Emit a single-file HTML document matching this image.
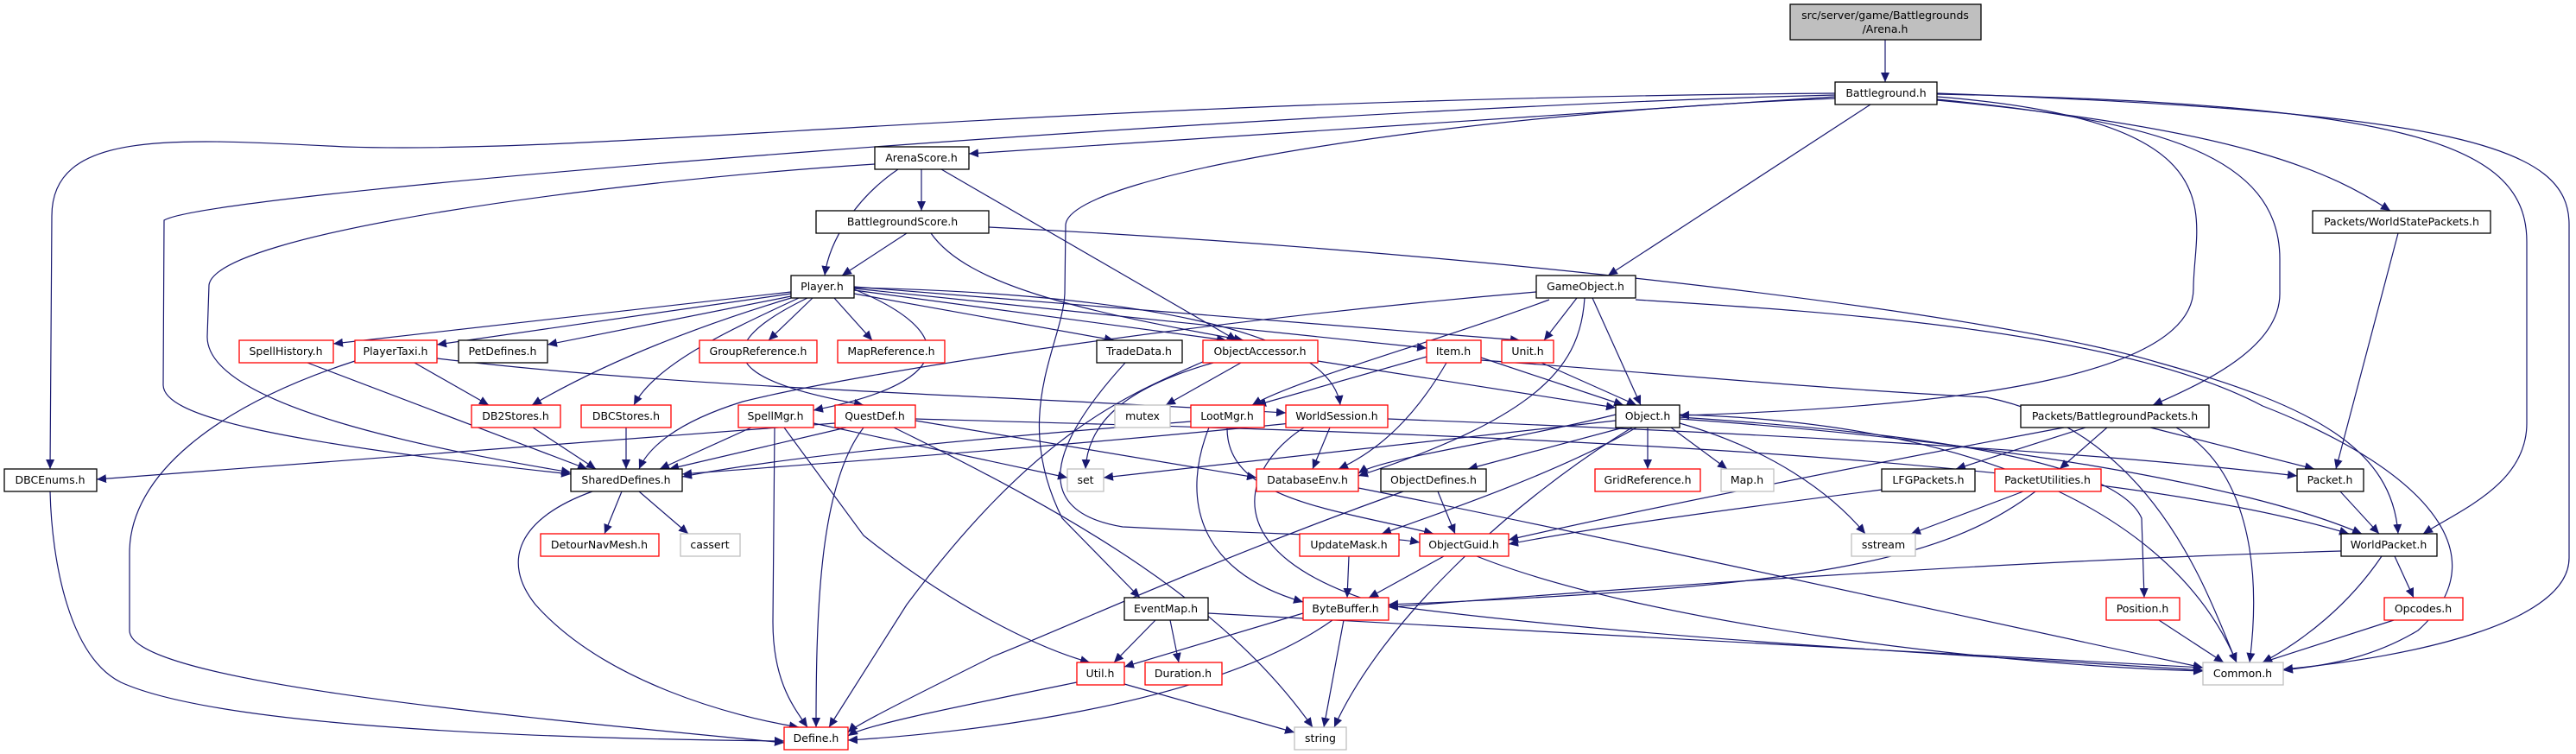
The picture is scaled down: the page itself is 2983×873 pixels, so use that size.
<!DOCTYPE html>
<html><head><meta charset="utf-8"><style>
body{margin:0;background:#fff;width:2983px;height:873px;overflow:hidden}
svg{position:absolute;left:0;top:0}
text{font-family:"DejaVu Sans","Liberation Sans",sans-serif;font-size:12.5px;fill:#000}
.n{fill:#fff;stroke:#000;stroke-width:1.3}
.r{fill:#fff;stroke:#ff0000;stroke-width:1.3}
.g{fill:#fff;stroke:#bfbfbf;stroke-width:1.3}
path.e{fill:none;stroke:#191970;stroke-width:1.2}
</style></head><body>
<svg width="2983" height="873" viewBox="0 0 2983 873" xmlns="http://www.w3.org/2000/svg">
<defs><marker id="a" markerUnits="userSpaceOnUse" markerWidth="12" markerHeight="10" refX="11" refY="5" orient="auto"><path d="M0,0 L11,5 L0,10 z" fill="#191970"/></marker></defs>
<g marker-end="url(#a)">
<path class="e" d="M2183,46 L2183,95"/>
<path class="e" d="M2125,108 C1200,115 700,180 400,170 C200,160 60,150 60,250 L58,543"/>
<path class="e" d="M2125,110 C1500,125 250,220 190,255 L189,446 C190,480 300,510 661,549"/>
<path class="e" d="M1013,190 C700,210 250,270 242,330 L240,390 C240,470 500,520 661,547"/>
<path class="e" d="M2125,112 L1122,178"/>
<path class="e" d="M2125,114 C1700,130 1240,200 1234,260 L1233,340 C1230,400 1170,480 1230,600 L1320,692"/>
<path class="e" d="M2166,121 L1862,319"/>
<path class="e" d="M2243,112 C2600,140 2540,250 2540,334 C2540,430 2300,470 1945,481"/>
<path class="e" d="M2243,115 C2500,140 2640,180 2640,300 L2640,340 C2640,400 2560,440 2493,469"/>
<path class="e" d="M2243,116 C2600,150 2700,200 2768,244"/>
<path class="e" d="M2243,109 C2800,120 2926,170 2926,280 L2926,490 C2926,560 2850,590 2806,618"/>
<path class="e" d="M2243,108 C2850,130 2975,170 2975,260 L2975,646 C2975,720 2800,760 2644,775"/>
<path class="e" d="M1067,196 L1067,244"/>
<path class="e" d="M1040,196 C990,230 960,280 955,319"/>
<path class="e" d="M1090,196 L1432,394"/>
<path class="e" d="M1050,270 L975,319"/>
<path class="e" d="M1078,270 C1120,330 1250,360 1440,394"/>
<path class="e" d="M1145,263 C1700,290 2300,360 2500,420 C2680,470 2770,520 2777,618"/>
<path class="e" d="M1894,347 C2100,360 2450,380 2620,470 C2800,540 2900,640 2800,730 C2750,760 2700,770 2644,776"/>
<path class="e" d="M1779,338 C1400,370 1000,430 860,465 C780,490 750,520 740,543"/>
<path class="e" d="M1794,347 C1650,400 1500,440 1450,469"/>
<path class="e" d="M1826,345 L1788,394"/>
<path class="e" d="M1844,345 L1900,469"/>
<path class="e" d="M1835,345 C1830,420 1790,480 1573,551"/>
<path class="e" d="M916,338 L386,398"/>
<path class="e" d="M916,340 L506,399"/>
<path class="e" d="M916,343 L634,399"/>
<path class="e" d="M941,345 L890,394"/>
<path class="e" d="M966,345 L1010,394"/>
<path class="e" d="M916,345 C800,380 700,420 616,469"/>
<path class="e" d="M925,345 C850,380 760,420 734,469"/>
<path class="e" d="M935,345 C780,420 900,450 1000,469"/>
<path class="e" d="M989,335 C1100,380 1120,440 942,475"/>
<path class="e" d="M989,340 L1290,394"/>
<path class="e" d="M989,336 L1420,394"/>
<path class="e" d="M989,334 L1652,403"/>
<path class="e" d="M989,332 L1760,394"/>
<path class="e" d="M989,333 C1300,340 1540,380 1552,469"/>
<path class="e" d="M480,420 L566,469"/>
<path class="e" d="M411,418 C250,470 150,550 150,640 L150,730 C150,790 600,830 908,860"/>
<path class="e" d="M506,415 C800,450 1100,455 1489,478"/>
<path class="e" d="M356,420 L680,543"/>
<path class="e" d="M617,495 L690,543"/>
<path class="e" d="M725,495 L725,543"/>
<path class="e" d="M870,495 L764,543"/>
<path class="e" d="M897,495 L895,720 C895,790 920,820 935,842"/>
<path class="e" d="M908,495 L1000,620 C1100,700 1200,750 1262,767"/>
<path class="e" d="M942,490 L1236,553"/>
<path class="e" d="M980,495 L775,543"/>
<path class="e" d="M1000,495 C950,560 945,700 945,842"/>
<path class="e" d="M967,490 L112,555"/>
<path class="e" d="M1060,487 L1455,553"/>
<path class="e" d="M1035,495 C1250,600 1420,700 1520,842"/>
<path class="e" d="M1060,485 C1600,500 2400,520 2720,618"/>
<path class="e" d="M1303,420 C1230,500 1180,590 1300,610 C1500,620 1600,620 1644,628"/>
<path class="e" d="M1437,420 L1350,469"/>
<path class="e" d="M1405,420 C1300,450 1260,490 1257,543"/>
<path class="e" d="M1395,418 C1300,460 1200,500 1050,700 L960,842"/>
<path class="e" d="M1526,418 L1871,472"/>
<path class="e" d="M1652,413 L1455,469"/>
<path class="e" d="M1715,414 L1880,469"/>
<path class="e" d="M1675,420 C1640,480 1600,520 1550,543"/>
<path class="e" d="M1715,417 C1900,430 2100,450 2300,460 C2500,500 2560,700 2590,767"/>
<path class="e" d="M1785,420 L1895,469"/>
<path class="e" d="M1379,488 C1100,510 900,530 790,552"/>
<path class="e" d="M1400,495 C1370,570 1380,660 1509,697"/>
<path class="e" d="M1421,495 C1420,580 1550,590 1660,618"/>
<path class="e" d="M1540,495 L1520,543"/>
<path class="e" d="M1495,490 C1200,520 900,540 790,549"/>
<path class="e" d="M1510,495 C1440,540 1400,640 1600,700 C1900,740 2300,760 2551,776"/>
<path class="e" d="M1607,485 C2000,500 2400,520 2660,551"/>
<path class="e" d="M1871,487 L1278,553"/>
<path class="e" d="M1890,495 C1750,580 1600,720 1545,842"/>
<path class="e" d="M1880,495 L1700,543"/>
<path class="e" d="M1908,495 L1908,543"/>
<path class="e" d="M1935,495 L2000,543"/>
<path class="e" d="M1945,490 C2050,520 2120,570 2160,618"/>
<path class="e" d="M1895,495 C1800,550 1650,600 1600,618"/>
<path class="e" d="M1945,483 C2200,500 2450,530 2480,600 L2483,692"/>
<path class="e" d="M1945,480 C2300,490 2520,600 2590,767"/>
<path class="e" d="M1871,480 C1750,510 1600,530 1573,548"/>
<path class="e" d="M1945,485 C2300,510 2600,560 2735,618"/>
<path class="e" d="M1573,565 C1900,630 2300,720 2551,773"/>
<path class="e" d="M1665,569 L1685,618"/>
<path class="e" d="M1625,569 C1400,650 1250,720 1150,760 C1050,810 990,840 982,848"/>
<path class="e" d="M1562,644 L1560,692"/>
<path class="e" d="M1672,644 L1585,692"/>
<path class="e" d="M1710,644 C1900,720 2300,770 2551,777"/>
<path class="e" d="M1338,718 L1290,767"/>
<path class="e" d="M1355,718 L1365,767"/>
<path class="e" d="M1399,710 L2551,773"/>
<path class="e" d="M1509,710 L1302,772"/>
<path class="e" d="M1556,718 L1533,842"/>
<path class="e" d="M1543,718 C1400,820 1100,850 982,857"/>
<path class="e" d="M1247,790 C1100,820 1000,840 982,852"/>
<path class="e" d="M1302,792 L1499,848"/>
<path class="e" d="M720,569 L700,618"/>
<path class="e" d="M740,569 L797,618"/>
<path class="e" d="M686,569 C600,600 580,650 620,700 C700,790 850,830 925,842"/>
<path class="e" d="M58,569 C60,650 80,760 140,790 C250,840 600,855 908,858"/>
<path class="e" d="M2415,495 L2265,543"/>
<path class="e" d="M2440,495 L2385,543"/>
<path class="e" d="M2490,495 L2680,543"/>
<path class="e" d="M2520,495 C2600,540 2620,650 2605,767"/>
<path class="e" d="M2390,495 C2150,540 1900,590 1747,625"/>
<path class="e" d="M2179,567 C2000,590 1850,610 1747,630"/>
<path class="e" d="M2343,569 L2213,618"/>
<path class="e" d="M2357,569 C2250,650 2100,680 1608,700"/>
<path class="e" d="M2710,569 L2755,618"/>
<path class="e" d="M2777,270 L2705,543"/>
<path class="e" d="M2711,638 C2300,650 1900,680 1608,703"/>
<path class="e" d="M2773,644 L2795,692"/>
<path class="e" d="M2758,644 C2720,700 2670,740 2620,767"/>
<path class="e" d="M2772,718 L2620,767"/>
<path class="e" d="M2500,718 L2575,767"/>
</g>
<rect x="2073" y="5" width="221" height="41" fill="#bfbfbf" stroke="#000" stroke-width="1.3"/>
<text x="2183" y="22" text-anchor="middle">src/server/game/Battlegrounds</text>
<text x="2183" y="38" text-anchor="middle">/Arena.h</text>
<g text-anchor="middle">
<rect class="n" x="2125" y="95" width="118" height="26"/><text x="2184" y="112">Battleground.h</text>
<rect class="n" x="1013" y="170" width="109" height="26"/><text x="1067" y="187">ArenaScore.h</text>
<rect class="n" x="945" y="244" width="200" height="26"/><text x="1045" y="261">BattlegroundScore.h</text>
<rect class="n" x="2678" y="244" width="206" height="26"/><text x="2781" y="261">Packets/WorldStatePackets.h</text>
<rect class="n" x="916" y="319" width="73" height="26"/><text x="952" y="336">Player.h</text>
<rect class="n" x="1779" y="319" width="115" height="26"/><text x="1836" y="336">GameObject.h</text>
<rect class="r" x="277" y="394" width="109" height="26"/><text x="331" y="411">SpellHistory.h</text>
<rect class="r" x="411" y="394" width="95" height="26"/><text x="458" y="411">PlayerTaxi.h</text>
<rect class="n" x="531" y="394" width="103" height="26"/><text x="582" y="411">PetDefines.h</text>
<rect class="r" x="810" y="394" width="136" height="26"/><text x="878" y="411">GroupReference.h</text>
<rect class="r" x="970" y="394" width="124" height="26"/><text x="1032" y="411">MapReference.h</text>
<rect class="n" x="1270" y="394" width="99" height="26"/><text x="1319" y="411">TradeData.h</text>
<rect class="r" x="1393" y="394" width="133" height="26"/><text x="1459" y="411">ObjectAccessor.h</text>
<rect class="r" x="1652" y="394" width="63" height="26"/><text x="1683" y="411">Item.h</text>
<rect class="r" x="1739" y="394" width="60" height="26"/><text x="1769" y="411">Unit.h</text>
<rect class="r" x="546" y="469" width="103" height="26"/><text x="597" y="486">DB2Stores.h</text>
<rect class="r" x="673" y="469" width="104" height="26"/><text x="725" y="486">DBCStores.h</text>
<rect class="r" x="855" y="469" width="87" height="26"/><text x="898" y="486">SpellMgr.h</text>
<rect class="r" x="967" y="469" width="93" height="26"/><text x="1013" y="486">QuestDef.h</text>
<rect class="g" x="1291" y="469" width="64" height="26"/><text x="1323" y="486">mutex</text>
<rect class="r" x="1379" y="469" width="85" height="26"/><text x="1421" y="486">LootMgr.h</text>
<rect class="r" x="1489" y="469" width="118" height="26"/><text x="1548" y="486">WorldSession.h</text>
<rect class="n" x="1871" y="469" width="74" height="26"/><text x="1908" y="486">Object.h</text>
<rect class="n" x="2340" y="469" width="218" height="26"/><text x="2449" y="486">Packets/BattlegroundPackets.h</text>
<rect class="n" x="5" y="543" width="107" height="26"/><text x="58" y="560">DBCEnums.h</text>
<rect class="n" x="661" y="543" width="129" height="26"/><text x="725" y="560">SharedDefines.h</text>
<rect class="g" x="1236" y="543" width="42" height="26"/><text x="1257" y="560">set</text>
<rect class="r" x="1455" y="543" width="118" height="26"/><text x="1514" y="560">DatabaseEnv.h</text>
<rect class="n" x="1599" y="543" width="122" height="26"/><text x="1660" y="560">ObjectDefines.h</text>
<rect class="r" x="1847" y="543" width="122" height="26"/><text x="1908" y="560">GridReference.h</text>
<rect class="g" x="1993" y="543" width="61" height="26"/><text x="2023" y="560">Map.h</text>
<rect class="n" x="2179" y="543" width="108" height="26"/><text x="2233" y="560">LFGPackets.h</text>
<rect class="r" x="2310" y="543" width="123" height="26"/><text x="2371" y="560">PacketUtilities.h</text>
<rect class="n" x="2660" y="543" width="77" height="26"/><text x="2698" y="560">Packet.h</text>
<rect class="r" x="626" y="618" width="137" height="26"/><text x="694" y="635">DetourNavMesh.h</text>
<rect class="g" x="788" y="618" width="69" height="26"/><text x="822" y="635">cassert</text>
<rect class="r" x="1505" y="618" width="115" height="26"/><text x="1562" y="635">UpdateMask.h</text>
<rect class="r" x="1644" y="618" width="103" height="26"/><text x="1695" y="635">ObjectGuid.h</text>
<rect class="g" x="2144" y="618" width="74" height="26"/><text x="2181" y="635">sstream</text>
<rect class="n" x="2711" y="618" width="111" height="26"/><text x="2766" y="635">WorldPacket.h</text>
<rect class="n" x="1302" y="692" width="97" height="26"/><text x="1350" y="709">EventMap.h</text>
<rect class="r" x="1509" y="692" width="99" height="26"/><text x="1558" y="709">ByteBuffer.h</text>
<rect class="r" x="2439" y="692" width="85" height="26"/><text x="2481" y="709">Position.h</text>
<rect class="r" x="2761" y="692" width="91" height="26"/><text x="2806" y="709">Opcodes.h</text>
<rect class="r" x="1247" y="767" width="55" height="26"/><text x="1274" y="784">Util.h</text>
<rect class="r" x="1326" y="767" width="89" height="26"/><text x="1370" y="784">Duration.h</text>
<rect class="g" x="2551" y="767" width="93" height="26"/><text x="2597" y="784">Common.h</text>
<rect class="r" x="908" y="842" width="74" height="26"/><text x="945" y="859">Define.h</text>
<rect class="g" x="1499" y="842" width="60" height="26"/><text x="1529" y="859">string</text>
</g>
</svg>
</body></html>
